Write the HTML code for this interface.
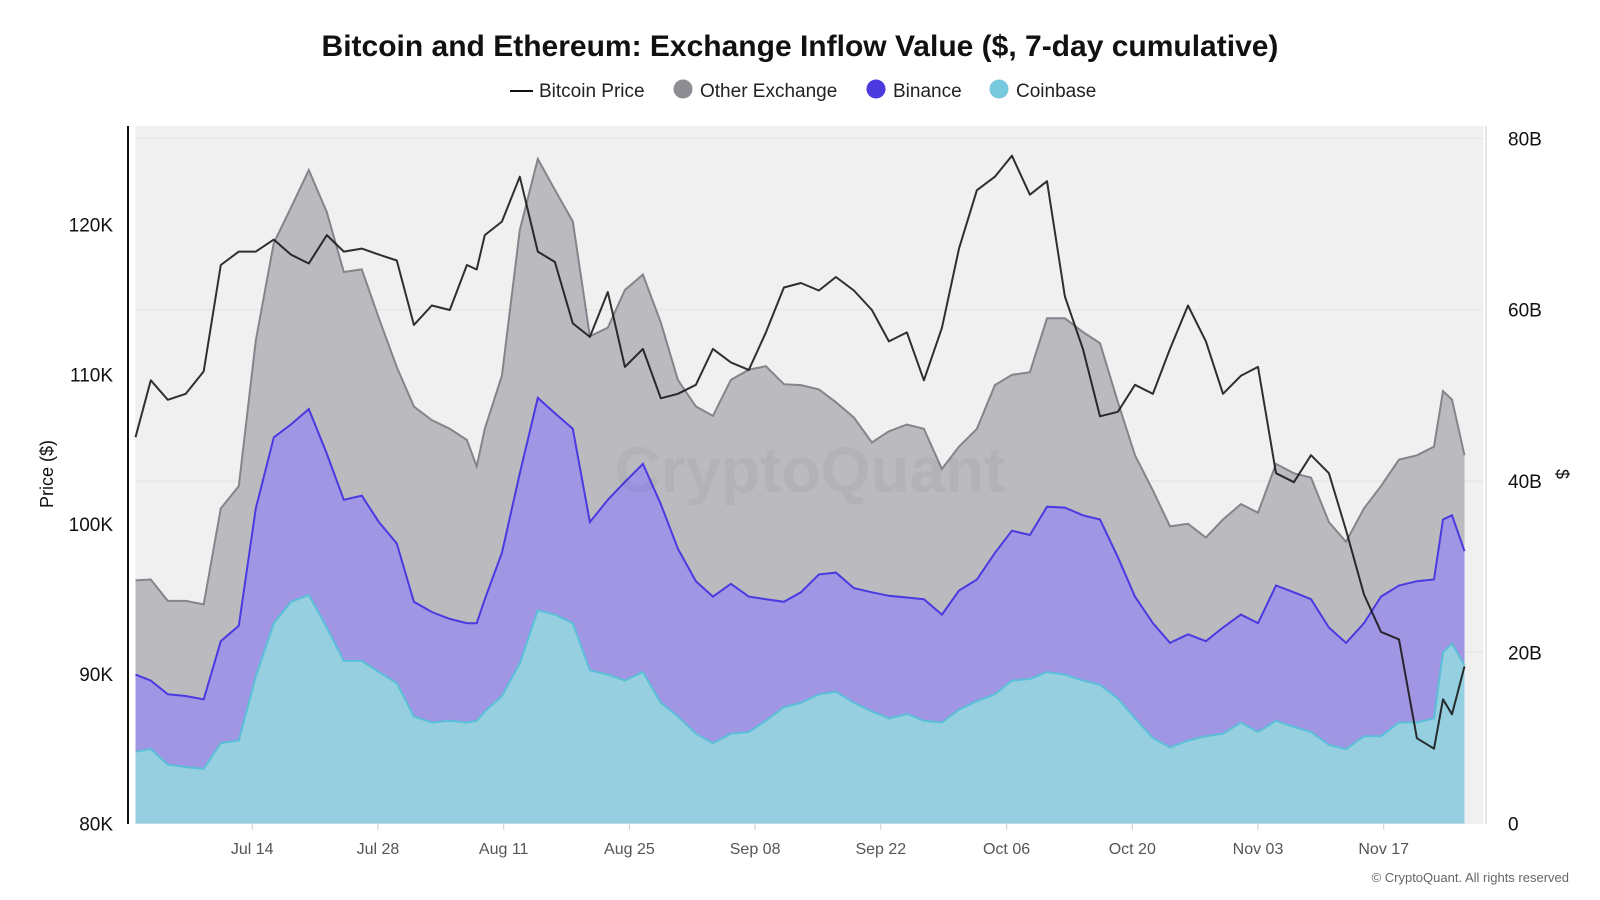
<!DOCTYPE html>
<html><head><meta charset="utf-8"><style>
html,body{margin:0;padding:0;background:#fff;width:1600px;height:900px;overflow:hidden;font-family:"Liberation Sans",sans-serif}
</style></head><body>
<svg id="chart" width="1600" height="900" viewBox="0 0 1600 900" xmlns="http://www.w3.org/2000/svg">
<text x="800" y="56" text-anchor="middle" font-size="30" font-weight="bold" fill="#111">Bitcoin and Ethereum: Exchange Inflow Value ($, 7-day cumulative)</text>
<g font-size="19" fill="#222">
 <g><line x1="510" y1="91" x2="533" y2="91" stroke="#111" stroke-width="2"/><text x="539" y="97">Bitcoin Price</text></g>
 <g><circle cx="683" cy="89" r="9.5" fill="#8e8d93"/><text x="700" y="97">Other Exchange</text></g>
 <g><circle cx="876" cy="89" r="9.5" fill="#4a3ae0"/><text x="893" y="97">Binance</text></g>
 <g><circle cx="999" cy="89" r="9.5" fill="#78c8de"/><text x="1016" y="97">Coinbase</text></g>
</g>
<rect x="135.5" y="126" width="1348" height="698" fill="#f0f0f0"/>
<g id="grid"></g>
<g id="areas"></g>
<text x="810" y="492" text-anchor="middle" font-size="64" font-weight="bold" fill="#000" fill-opacity="0.04">CryptoQuant</text>
<g id="lines"></g>
<line x1="128" y1="126" x2="128" y2="824" stroke="#111" stroke-width="2"/>
<line x1="1486" y1="126" x2="1486" y2="824" stroke="#ccc" stroke-width="1"/>
<g id="axes"></g>
<text transform="translate(53,474) rotate(-90)" text-anchor="middle" font-size="18" fill="#111">Price ($)</text>
<text transform="translate(1556,474) rotate(90)" text-anchor="middle" font-size="18" fill="#111">$</text>
<text x="1569" y="882" text-anchor="end" font-size="13" fill="#666">© CryptoQuant. All rights reserved</text>
</svg>
<script>
const days = [0,1.7,3.6,5.6,7.6,9.5,11.5,13.4,15.4,17.3,19.3,21.3,23.2,25.2,27.1,29.1,31.0,33.0,35.0,36.9,38.0,38.9,40.8,42.8,44.8,46.7,48.7,50.6,52.6,54.5,56.5,58.5,60.4,62.4,64.3,66.3,68.3,70.2,72.2,74.1,76.1,78.0,80.0,82.0,83.9,85.9,87.8,89.8,91.7,93.7,95.7,97.6,99.6,101.5,103.5,105.5,107.4,109.4,111.3,113.3,115.2,117.2,119.2,121.1,123.1,125.0,127.0,129.0,130.9,132.9,134.8,136.8,138.7,140.7,142.7,144.6,145.6,146.6,148];
const btcPrice = [105.8,109.6,108.3,108.7,110.2,117.3,118.2,118.2,119.0,118.0,117.4,119.3,118.2,118.4,118.0,117.6,113.3,114.6,114.3,117.3,117.0,119.3,120.2,123.2,118.2,117.5,113.4,112.5,115.5,110.5,111.7,108.4,108.7,109.3,111.7,110.8,110.3,112.8,115.8,116.1,115.6,116.5,115.6,114.3,112.2,112.8,109.6,113.1,118.4,122.3,123.2,124.6,122.0,122.9,115.2,111.7,107.2,107.5,109.3,108.7,111.7,114.6,112.2,108.7,109.9,110.5,103.4,102.8,104.6,103.4,99.6,95.3,92.8,92.3,85.7,85.0,88.3,87.3,90.5];
const coinbase = [8.4,8.7,6.9,6.6,6.4,9.4,9.7,17.2,23.4,25.9,26.7,22.9,19.0,19.0,17.7,16.4,12.5,11.8,12.0,11.8,12.0,13.1,14.9,18.7,24.9,24.4,23.4,17.9,17.4,16.7,17.7,14.1,12.5,10.5,9.4,10.5,10.7,12.0,13.6,14.1,15.1,15.4,14.1,13.1,12.3,12.8,12.0,11.8,13.3,14.3,15.1,16.7,16.9,17.7,17.4,16.7,16.2,14.6,12.3,10.0,8.9,9.7,10.2,10.5,11.8,10.7,12.0,11.3,10.7,9.2,8.7,10.2,10.2,11.8,11.8,12.3,20.0,21.0,18.5];
const binance = [9.0,8.0,8.2,8.3,8.1,11.9,13.4,19.6,21.7,20.7,21.7,20.3,18.8,19.3,17.5,16.3,13.4,12.9,11.9,11.6,11.4,13.1,16.7,22.2,24.8,23.5,22.7,17.3,20.4,23.2,24.3,23.2,19.6,17.8,17.1,17.5,15.8,14.2,12.3,12.9,14.0,13.9,13.4,13.9,14.3,13.6,14.2,12.6,13.9,14.2,16.5,17.5,16.8,19.3,19.5,19.3,19.3,16.5,14.2,13.4,12.2,12.4,11.1,12.4,12.6,12.7,15.8,15.7,15.5,13.7,12.4,13.2,16.3,16.0,16.5,16.2,15.5,15.0,13.3];
const otherExchange = [11.0,11.8,10.9,11.1,11.1,15.5,16.3,19.6,22.7,25.3,27.9,28.2,26.6,26.4,23.8,20.6,22.8,22.4,22.2,21.4,18.3,19.9,20.7,28.4,27.9,26.1,24.2,21.7,20.1,22.4,22.1,21.2,19.7,20.4,21.1,23.8,26.5,27.2,25.4,24.2,21.6,19.9,19.9,17.5,19.2,20.2,19.9,17.0,16.8,17.6,19.6,18.2,19.0,22.0,22.1,21.4,20.6,18.1,16.5,15.5,13.6,12.9,12.1,12.6,12.9,12.9,14.2,13.9,14.2,12.3,11.8,13.4,12.9,14.7,14.7,15.5,15.0,13.5,11.2];
const xTickLabels = ["Jul 14","Jul 28","Aug 11","Aug 25","Sep 08","Sep 22","Oct 06","Oct 20","Nov 03","Nov 17"];
const xTickDays = [13,27,41,55,69,83,97,111,125,139];
const priceTicks = [80,90,100,110,120];
const valueTicks = [0,20,40,60,80];

const NS="http://www.w3.org/2000/svg";
const X0=135.5, DX=8.98, PY0=823.6, PK=14.975, VB=8.565;
const xs=d=>X0+d*DX;
const yPrice=k=>PY0-(k-80)*PK;
const yVal=b=>PY0-b*VB;
function mk(tag,attrs,parent){const e=document.createElementNS(NS,tag);for(const k in attrs)e.setAttribute(k,attrs[k]);parent.appendChild(e);return e;}
const grid=document.getElementById('grid'),areas=document.getElementById('areas'),lines=document.getElementById('lines'),axes=document.getElementById('axes');

valueTicks.forEach(v=>{
  if(v>0){const g=mk('line',{x1:X0,x2:1483,y1:yVal(v),y2:yVal(v),stroke:'#e2e2e2','stroke-width':1},grid);
  
  }
  const t=mk('text',{x:1508,y:yVal(v)+7,'font-size':19,fill:'#111'},axes);t.textContent=v===0?'0':v+'B';
  
  
});
priceTicks.forEach(p=>{
  const t=mk('text',{x:113,y:yPrice(p)+7,'text-anchor':'end','font-size':19,fill:'#111'},axes);t.textContent=p+'K';
  
  
});
xTickLabels.forEach((l,i)=>{
  const x=xs(xTickDays[i]);
  const tk=mk('line',{x1:x,x2:x,y1:824,y2:830,stroke:'#ccc'},axes);
  
  
  const t=mk('text',{x:x,y:854,'text-anchor':'middle','font-size':16,fill:'#555'},axes);t.textContent=l;
  
  
});

const c0=coinbase.map(()=>0);
const c1=coinbase.slice();
const c2=c1.map((v,i)=>v+binance[i]);
const c3=c2.map((v,i)=>v+otherExchange[i]);
function band(lo,hi,fill,stroke,name){
  let d='M'+days.map((t,i)=>xs(t).toFixed(1)+','+yVal(hi[i]).toFixed(1)).join('L');
  for(let i=days.length-1;i>=0;i--)d+='L'+xs(days[i]).toFixed(1)+','+yVal(lo[i]).toFixed(1);
  const a=mk('path',{d:d+'Z',fill:fill,stroke:'none'},areas);
  
  
  const l=mk('path',{d:'M'+days.map((t,i)=>xs(t).toFixed(1)+','+yVal(hi[i]).toFixed(1)).join('L'),fill:'none',stroke:stroke,'stroke-width':2},areas);
  
  
}
band(c2,c3,'#bbbabf','#85848a','other-exchange');
band(c1,c2,'#a096e4','#4a3ae0','binance');
band(c0,c1,'#95cfe0','#5bbfd8','coinbase');

const pl=mk('path',{d:'M'+days.map((t,i)=>xs(t).toFixed(1)+','+yPrice(btcPrice[i]).toFixed(1)).join('L'),fill:'none',stroke:'#1a1a1a','stroke-width':2,'stroke-opacity':0.9,'stroke-linejoin':'round'},lines);


</script>
</body></html>
